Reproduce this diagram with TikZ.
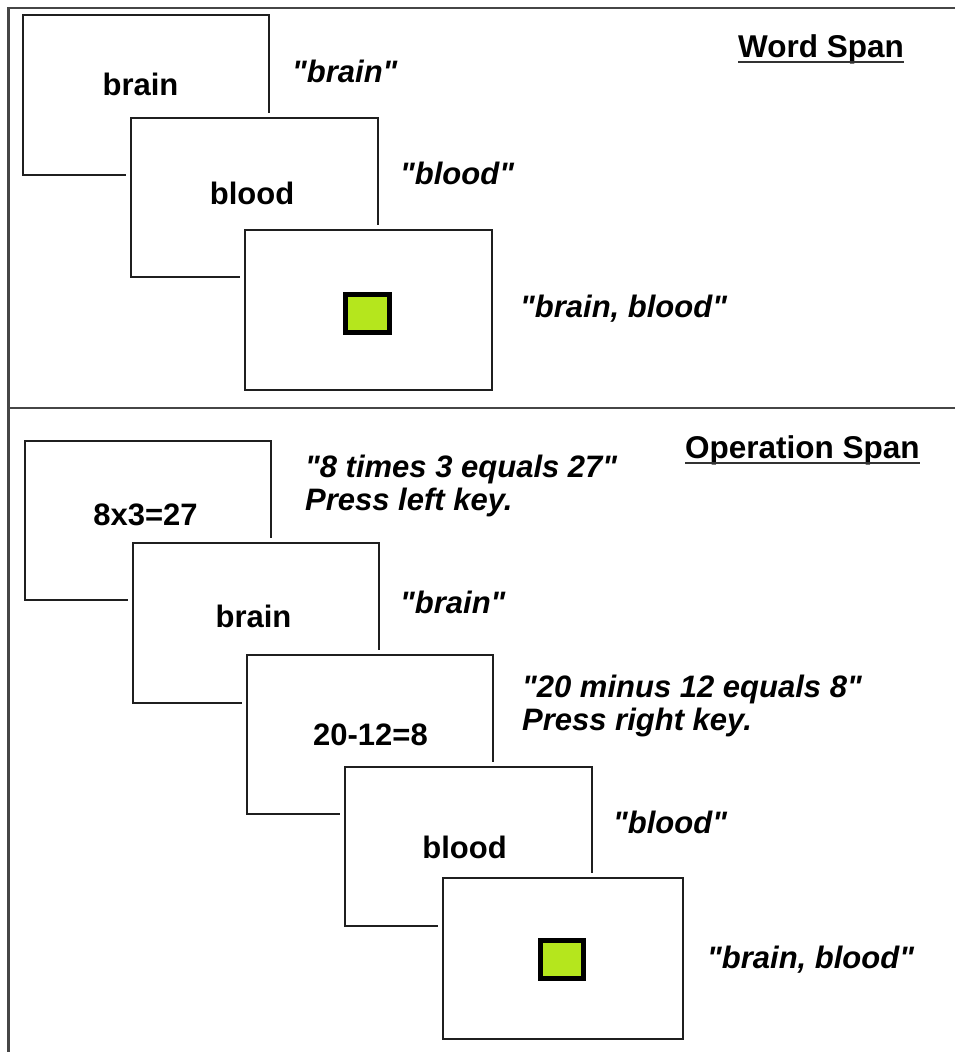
\documentclass[tikz,border=0pt]{standalone}
\usepackage{fontspec}
\setmainfont{Liberation Sans}[Ligatures=TeXOff]
\definecolor{lime}{RGB}{181,230,29}
\definecolor{frame}{RGB}{70,70,70}
\begin{document}
\begin{tikzpicture}[x=1pt,y=-1pt,
  screen/.style={draw=black!88, line width=2pt, fill=white, minimum width=246pt, minimum height=160pt, inner sep=0pt,
    preaction={draw=white, line width=10pt}},
  cue/.style={draw=black, line width=5pt, fill=lime, minimum width=44pt, minimum height=38pt, inner sep=0pt},
  word/.style={anchor=base, inner sep=0pt, font=\fontsize{31}{36}\selectfont\bfseries},
  said/.style={anchor=base west, inner sep=0pt, font=\fontsize{31}{36}\selectfont\bfseries\itshape},
  title/.style={anchor=base west, inner sep=0pt, font=\fontsize{31.5}{36}\selectfont\bfseries},
  ul/.style={draw=black!80, line width=2.5pt},
  framelines/.style={draw=frame, line width=2.5pt}]
\useasboundingbox (0,0) rectangle (955,1052);

% ---------- Word span ----------
\node[screen] (w1) at (146,95) {};
\node[screen, minimum width=247pt, minimum height=159pt] (w2) at (254.5,197.5) {};
\node[screen, minimum width=247pt] (w3) at (368.5,310) {};
\node[cue] (wc) at (367.5,313.5) {};

\node[word] (w1t) at (140.5,95) {brain};
\node[word] (w2t) at (252,204) {blood};
\node[said] (w1s) at (292,82) {"brain"};
\node[said] (w2s) at (400,184) {"blood"};
\node[said] (w3s) at (520,317) {"brain, blood"};
\node[title] (wst) at (738,57) {Word Span};
\draw[ul] ([yshift=-5pt]wst.base west) -- ([yshift=-5pt]wst.base east);

% ---------- Operation span ----------
\node[screen, minimum height=159pt] (o1) at (148,520.5) {};
\node[screen] (o2) at (256,623) {};
\node[screen, minimum height=159pt] (o3) at (370,734.5) {};
\node[screen, minimum width=247pt, minimum height=159pt] (o4) at (468.5,846.5) {};
\node[screen, minimum width=240pt, minimum height=161pt] (o5) at (563,958.5) {};
\node[cue, minimum width=43pt] (oc) at (562,959.5) {};

\node[word] (o1t) at (145.5,525) {8x3=27};
\node[word] (o2t) at (253.5,627) {brain};
\node[word] (o3t) at (370.5,745) {20-12=8};
\node[word] (o4t) at (464.5,858) {blood};

\node[said] (o1s) at (305,477) {"8 times 3 equals 27"};
\node[said] (o1k) at (305,510) {Press left key.};
\node[said] (o2s) at (400,613) {"brain"};
\node[said] (o3s) at (522,697) {"20 minus 12 equals 8"};
\node[said] (o3k) at (522,730) {Press right key.};
\node[said] (o4s) at (613,833) {"blood"};
\node[said] (o5s) at (707,968) {"brain, blood"};
\node[title] (ost) at (685,458) {Operation Span};
\draw[ul] ([yshift=-5pt]ost.base west) -- ([yshift=-5pt]ost.base east);

% ---------- frame ----------
\coordinate (tl) at (8.5,8);
\coordinate (tr) at (960,8);
\coordinate (bl) at (8.5,1060);
\coordinate (ml) at (8.5,408);
\coordinate (mr) at (960,408);
\draw[framelines] (tr) -- (tl) -- (bl);
\draw[framelines] (ml) -- (mr);
\end{tikzpicture}
\end{document}
